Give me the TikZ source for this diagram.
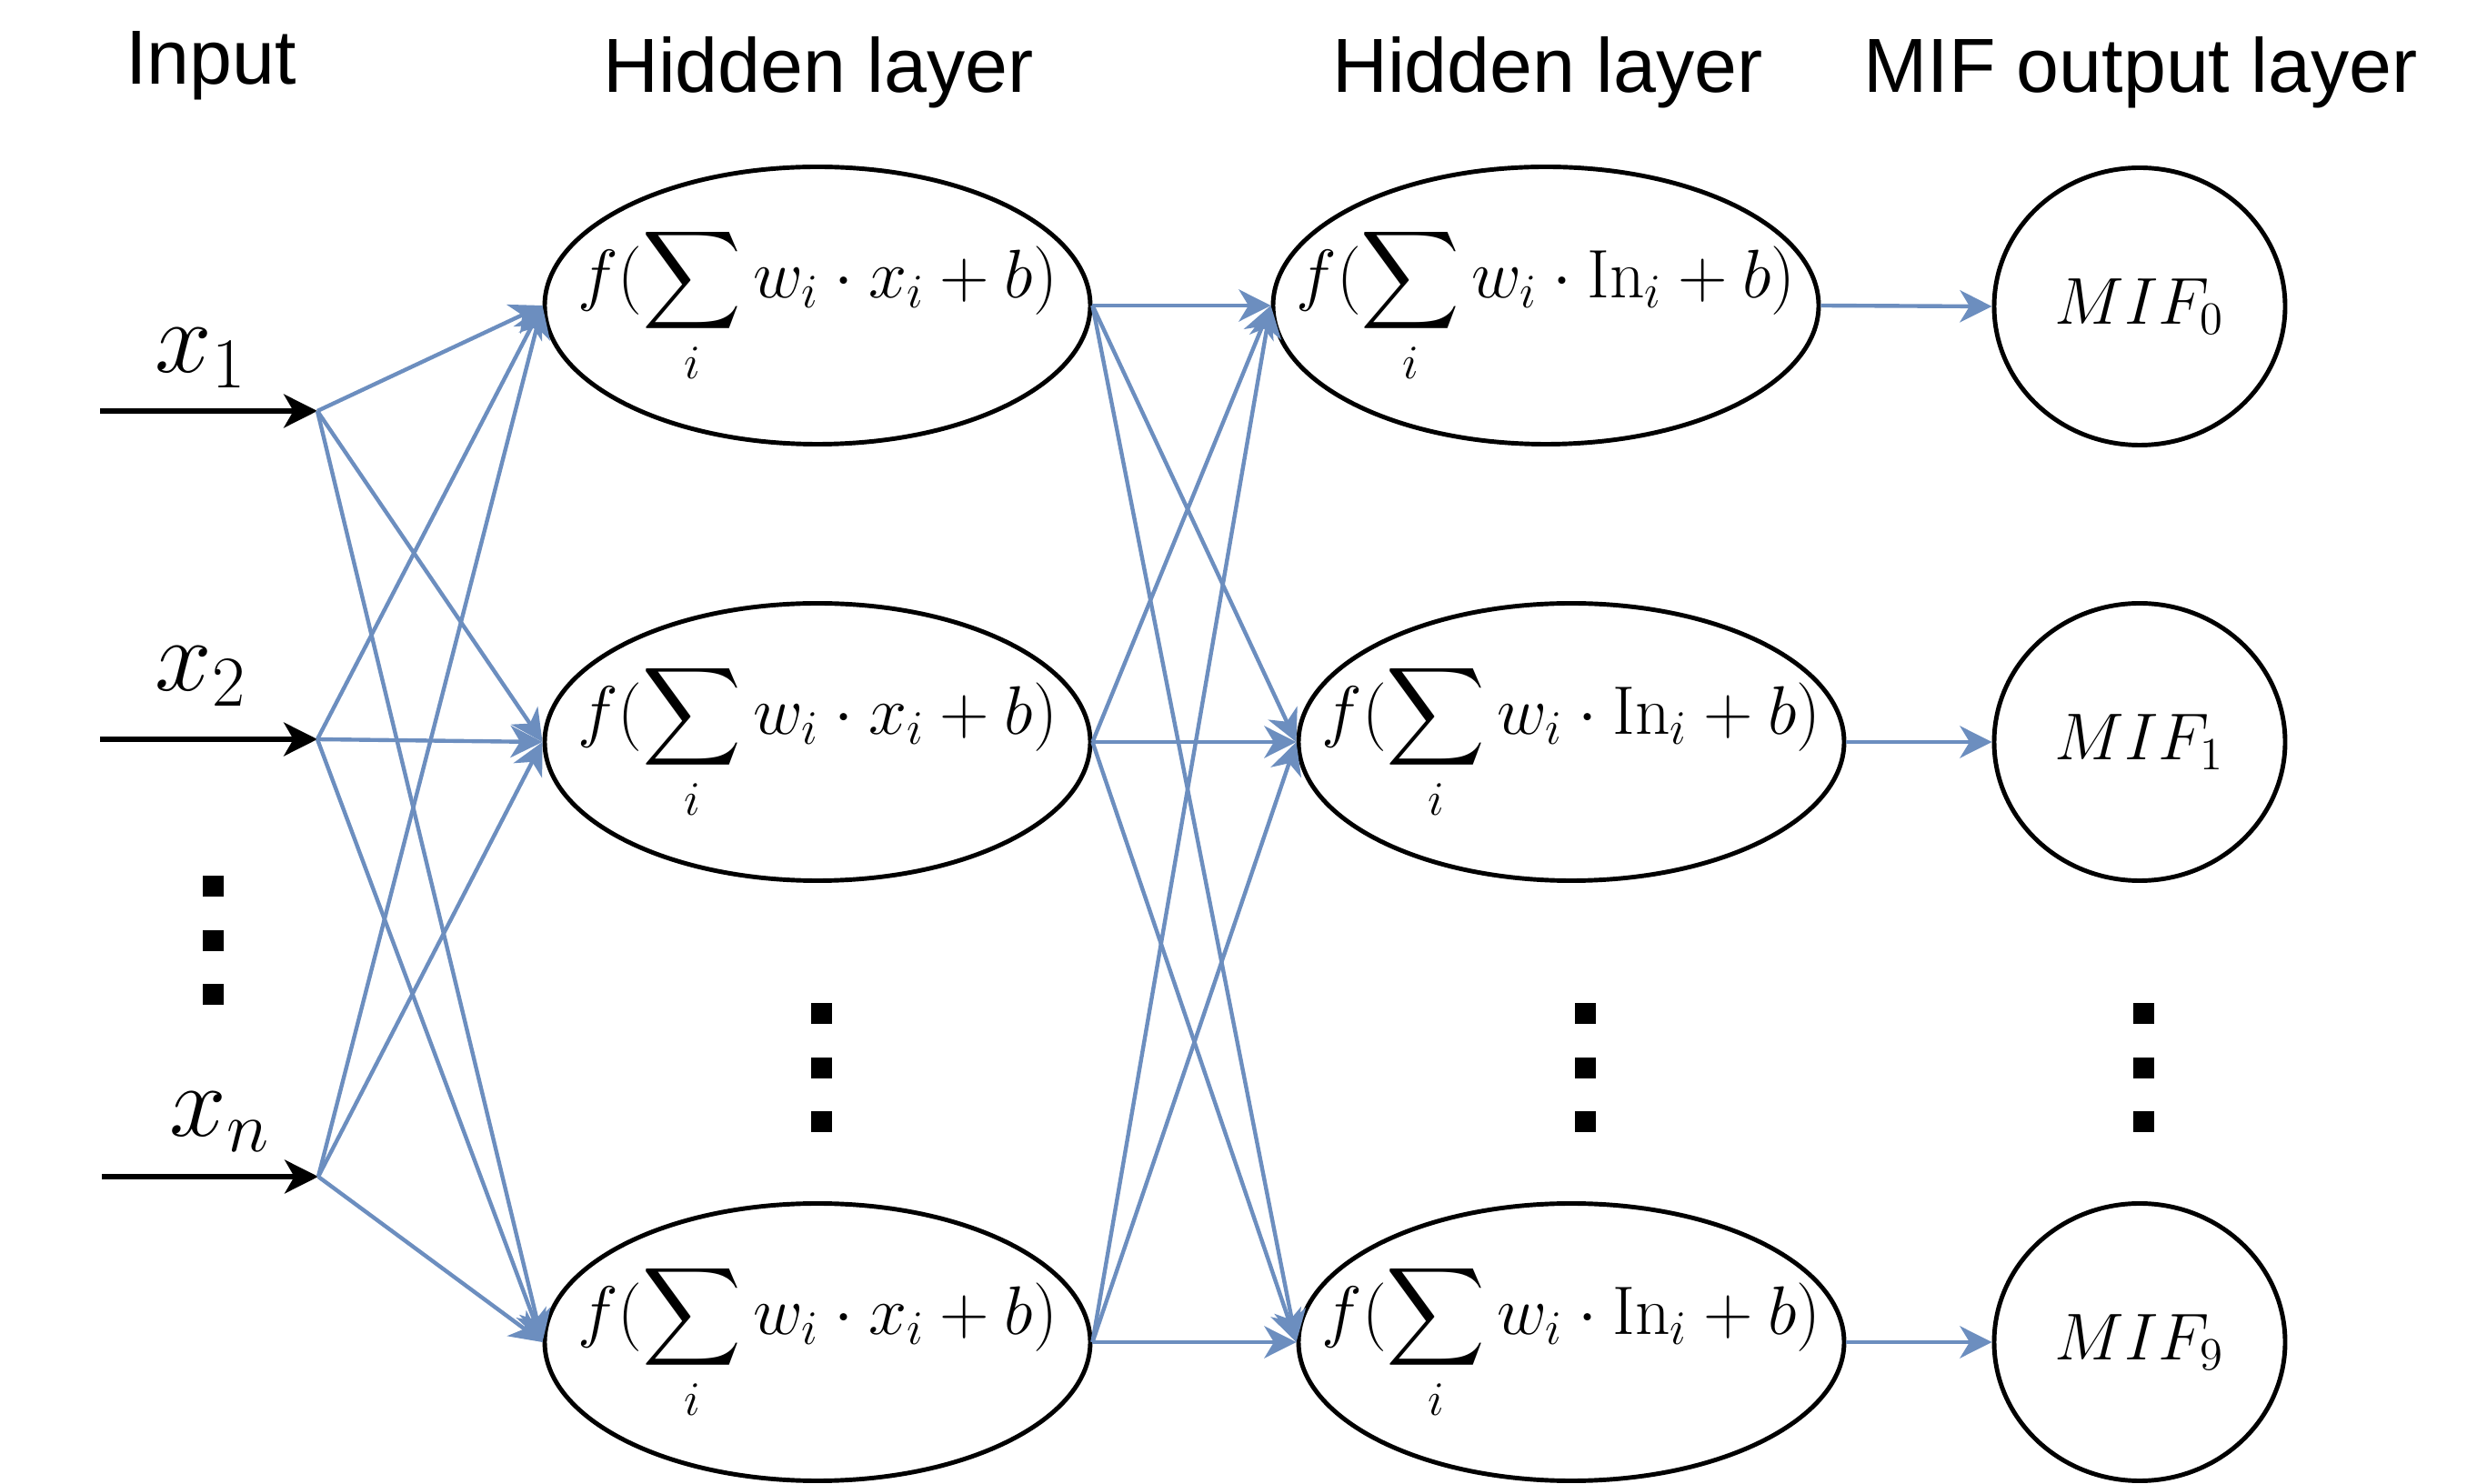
\RequirePackage{fix-cm}
\documentclass[tikz,border=0pt]{standalone}
\usepackage{amsmath,amssymb}
\usepackage{fontspec}
\newfontfamily\titlefont{Liberation Sans}
\usetikzlibrary{arrows.meta,positioning,shapes.geometric}
\definecolor{linkblue}{HTML}{6C8EBF}

\begin{document}
\begin{tikzpicture}[
    node distance=3.5mm,
    neuron/.style={
        ellipse,
        draw,
        line width=1.4pt,
        inner sep=0pt,
        minimum width=6cm, % fixed size, text is boxed to zero width
        minimum height=3.05cm,
        font=\fontsize{21.5}{26}\selectfont
    },
    outnode/.style={neuron, minimum width=3.2cm, font=\fontsize{20.74}{25}\selectfont},
    layertitle/.style={anchor=base, font=\titlefont\fontsize{24}{28}\selectfont},
    inlabel/.style={anchor=base, font=\fontsize{32}{36}\selectfont},
    dotsq/.style={rectangle, fill=black, minimum size=2.3mm, inner sep=0pt},
    inarrow/.style={-{Stealth[length=10.5pt, width=10.5pt, inset=3pt]}, line width=1.5pt},
    conn/.style={-{Stealth[length=10pt, width=10pt, inset=3pt]}, line width=1.25pt, draw=linkblue}
]
\useasboundingbox (0,0) rectangle (27.24,-16.32);

% Titles
\node[layertitle] (tin) at (2.32,-0.93) {Input};
\node[layertitle] (th1) at (9.00,-1.02) {Hidden layer};
\node[layertitle] (th2) at (17.02,-1.02) {Hidden layer};
\node[layertitle] (tout) at (23.54,-1.02) {MIF output layer};

% Inputs
\coordinate (s1) at (1.10,-4.52);
\coordinate (x1) at (3.49,-4.52);
\coordinate (s2) at (1.10,-8.13);
\coordinate (x2) at (3.49,-8.13);
\coordinate (sn) at (1.12,-12.94);
\coordinate (xn) at (3.50,-12.94);

\node[inlabel] (lx1) at (2.21,-4.10) {$x_1$};
\node[inlabel] (lx2) at (2.21,-7.60) {$x_2$};
\node[inlabel] (lxn) at (2.42,-12.50) {$x_n$};

\node[dotsq] (din1) at (2.34,-9.75) {};
\node[dotsq, below=of din1] (din2) {};
\node[dotsq, below=of din2] (din3) {};

% First hidden layer
\node[neuron] (h1a) at (8.99,-3.36) {\makebox[0pt]{$\displaystyle f(\sum_i w_i\cdot x_i+b)$}};
\node[neuron] (h1b) at (8.99,-8.16) {\makebox[0pt]{$\displaystyle f(\sum_i w_i\cdot x_i+b)$}};
\node[neuron] (h1c) at (8.99,-14.76) {\makebox[0pt]{$\displaystyle f(\sum_i w_i\cdot x_i+b)$}};

\node[dotsq] (dh1a) at (9.03,-11.15) {};
\node[dotsq, below=of dh1a] (dh1b) {};
\node[dotsq, below=of dh1b] (dh1c) {};

% Second hidden layer
\node[neuron] (h2a) at (17.00,-3.36) {\makebox[0pt]{$\displaystyle f(\sum_i w_i\cdot \mathrm{In}_i+b)$}};
\node[neuron] (h2b) at (17.28,-8.16) {\makebox[0pt]{$\displaystyle f(\sum_i w_i\cdot \mathrm{In}_i+b)$}};
\node[neuron] (h2c) at (17.28,-14.76) {\makebox[0pt]{$\displaystyle f(\sum_i w_i\cdot \mathrm{In}_i+b)$}};

\node[dotsq] (dh2a) at (17.43,-11.15) {};
\node[dotsq, below=of dh2a] (dh2b) {};
\node[dotsq, below=of dh2b] (dh2c) {};

% Output layer
\node[outnode] (o0) at (23.53,-3.37) {$MIF_0$};
\node[outnode] (o1) at (23.53,-8.16) {$MIF_1$};
\node[outnode] (o9) at (23.53,-14.76) {$MIF_9$};

\node[dotsq] (doa) at (23.57,-11.15) {};
\node[dotsq, below=of doa] (dob) {};
\node[dotsq, below=of dob] (doc) {};

% Connections
\draw[inarrow] (s1) -- (x1);
\draw[inarrow] (s2) -- (x2);
\draw[inarrow] (sn) -- (xn);

\draw[conn] (x1) -- (h1a.west);
\draw[conn] (x1) -- (h1b.west);
\draw[conn] (x1) -- (h1c.west);
\draw[conn] (x2) -- (h1a.west);
\draw[conn] (x2) -- (h1b.west);
\draw[conn] (x2) -- (h1c.west);
\draw[conn] (xn) -- (h1a.west);
\draw[conn] (xn) -- (h1b.west);
\draw[conn] (xn) -- (h1c.west);

\draw[conn] (h1a.east) -- (h2a.west);
\draw[conn] (h1a.east) -- (h2b.west);
\draw[conn] (h1a.east) -- (h2c.west);
\draw[conn] (h1b.east) -- (h2a.west);
\draw[conn] (h1b.east) -- (h2b.west);
\draw[conn] (h1b.east) -- (h2c.west);
\draw[conn] (h1c.east) -- (h2a.west);
\draw[conn] (h1c.east) -- (h2b.west);
\draw[conn] (h1c.east) -- (h2c.west);

\draw[conn] (h2a.east) -- (o0.west);
\draw[conn] (h2b.east) -- (o1.west);
\draw[conn] (h2c.east) -- (o9.west);

\end{tikzpicture}
\end{document}
